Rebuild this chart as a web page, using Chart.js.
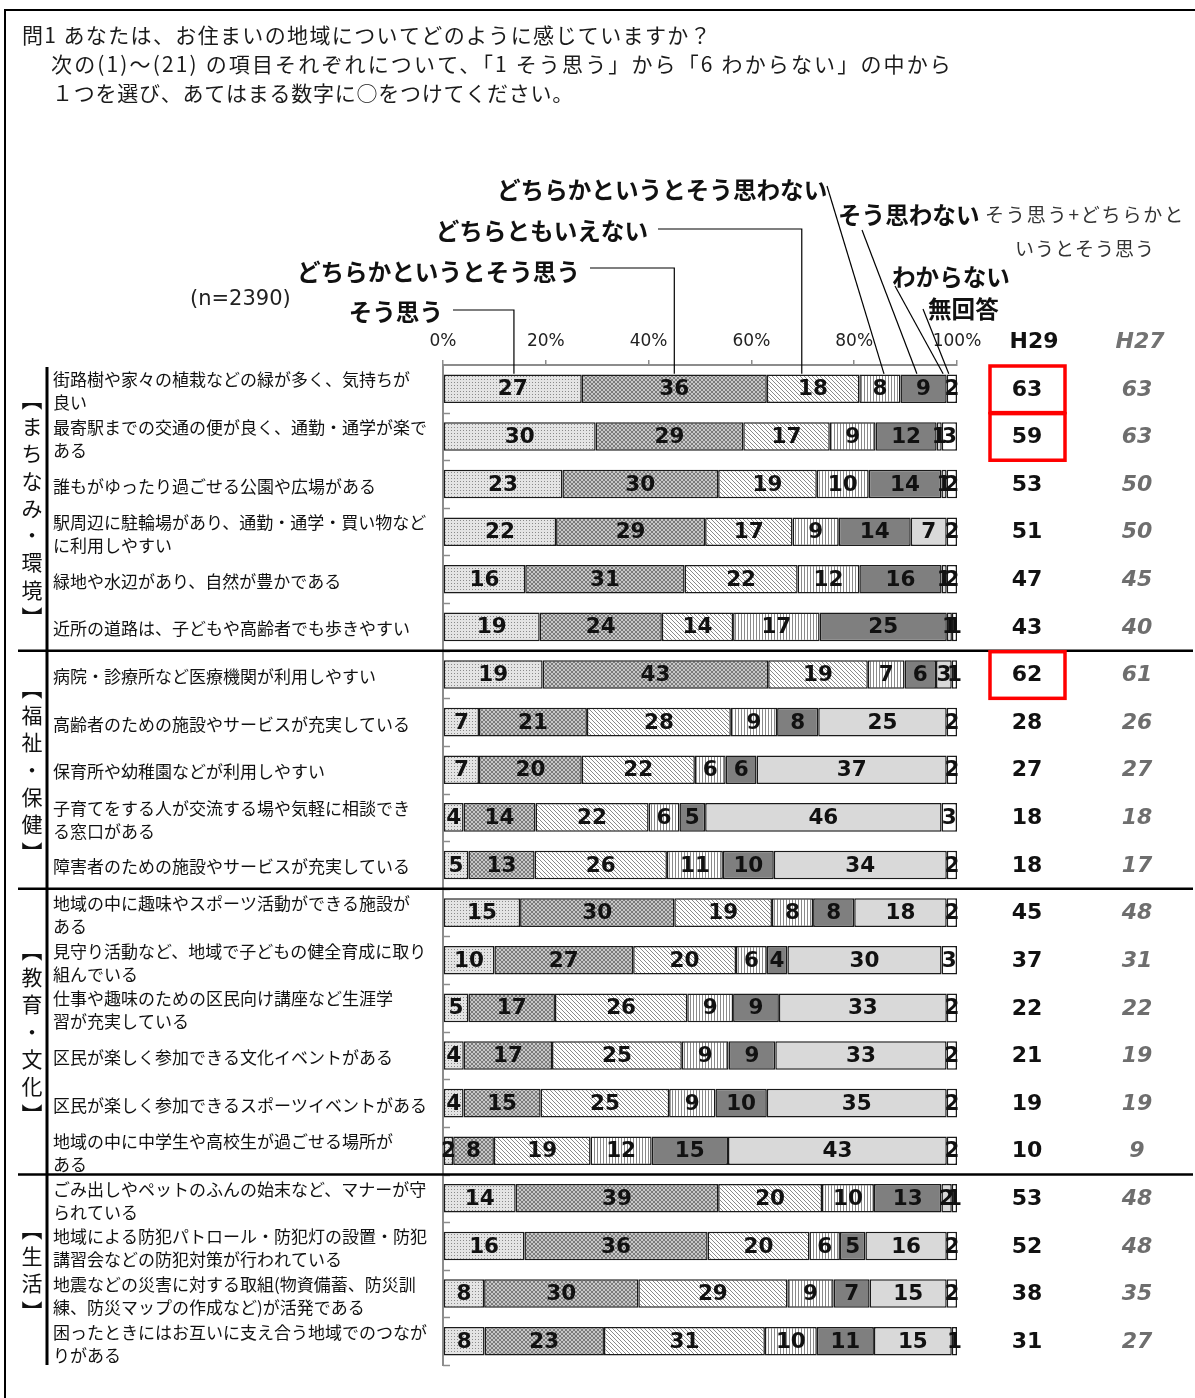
<!DOCTYPE html>
<html lang="ja">
<head>
<meta charset="utf-8">
<title>お住まいの地域について</title>
<script src="https://cdn.jsdelivr.net/npm/chart.js@4.4.1/dist/chart.umd.min.js"></script>
<style>
  html, body { margin: 0; padding: 0; background: #fff; }
  #wrap { width: 1195px; height: 1398px; }
</style>
</head>
<body>
<div id="wrap"><canvas id="myChart" width="1195" height="1398"></canvas></div>
<script>
// 回答の選択肢
const answers = ['そう思う', 'どちらかというとそう思う', 'どちらともいえない',
  'どちらかというとそう思わない', 'そう思わない', 'わからない', '無回答'];

// 項目（長いものは2行）
const items = [
  ['街路樹や家々の植栽などの緑が多く、気持ちが', '良い'],
  ['最寄駅までの交通の便が良く、通勤・通学が楽で', 'ある'],
  ['誰もがゆったり過ごせる公園や広場がある'],
  ['駅周辺に駐輪場があり、通勤・通学・買い物など', 'に利用しやすい'],
  ['緑地や水辺があり、自然が豊かである'],
  ['近所の道路は、子どもや高齢者でも歩きやすい'],
  ['病院・診療所など医療機関が利用しやすい'],
  ['高齢者のための施設やサービスが充実している'],
  ['保育所や幼稚園などが利用しやすい'],
  ['子育てをする人が交流する場や気軽に相談でき', 'る窓口がある'],
  ['障害者のための施設やサービスが充実している'],
  ['地域の中に趣味やスポーツ活動ができる施設が', 'ある'],
  ['見守り活動など、地域で子どもの健全育成に取り', '組んでいる'],
  ['仕事や趣味のための区民向け講座など生涯学', '習が充実している'],
  ['区民が楽しく参加できる文化イベントがある'],
  ['区民が楽しく参加できるスポーツイベントがある'],
  ['地域の中に中学生や高校生が過ごせる場所が', 'ある'],
  ['ごみ出しやペットのふんの始末など、マナーが守', 'られている'],
  ['地域による防犯パトロール・防犯灯の設置・防犯', '講習会などの防犯対策が行われている'],
  ['地震などの災害に対する取組(物資備蓄、防災訓', '練、防災マップの作成など)が活発である'],
  ['困ったときにはお互いに支え合う地域でのつなが', 'りがある']
];

// 各選択肢の割合（%）
const soOmou       = [27, 30, 23, 22, 16, 19, 19, 7, 7, 4, 5, 15, 10, 5, 4, 4, 2, 14, 16, 8, 8];
const dochiraOmou  = [36, 29, 30, 29, 31, 24, 43, 21, 20, 14, 13, 30, 27, 17, 17, 15, 8, 39, 36, 30, 23];
const dochiraMo    = [18, 17, 19, 17, 22, 14, 19, 28, 22, 22, 26, 19, 20, 26, 25, 25, 19, 20, 20, 29, 31];
const dochiraNai   = [8, 9, 10, 9, 12, 17, 7, 9, 6, 6, 11, 8, 6, 9, 9, 9, 12, 10, 6, 9, 10];
const soOmowanai   = [9, 12, 14, 14, 16, 25, 6, 8, 6, 5, 10, 8, 4, 9, 9, 10, 15, 13, 5, 7, 11];
const wakaranai    = [0, 1, 1, 7, 1, 1, 3, 25, 37, 46, 34, 18, 30, 33, 33, 35, 43, 2, 16, 15, 15];
const mukaito      = [2, 3, 2, 2, 2, 1, 1, 2, 2, 3, 2, 2, 3, 2, 2, 2, 2, 1, 2, 2, 1];

// そう思う+どちらかというとそう思う
const h29 = [63, 59, 53, 51, 47, 43, 62, 28, 27, 18, 18, 45, 37, 22, 21, 19, 10, 53, 52, 38, 31];
const h27 = [63, 63, 50, 50, 45, 40, 61, 26, 27, 18, 17, 48, 31, 22, 19, 19, 9, 48, 48, 35, 27];

const groupNames = ['まちなみ・環境', '福祉・保健', '教育・文化', '生活'];
const groupSizes = [6, 5, 6, 4];
const boxedRows = [0, 1, 6];
const xTicks = [0, 20, 40, 60, 80, 100];

const JP = '"Noto Sans CJK JP", sans-serif';
const NUM = '"DejaVu Sans", Verdana, sans-serif';

const series = [soOmou, dochiraOmou, dochiraMo, dochiraNai, soOmowanai, wakaranai, mukaito];
// 100%積み上げ：行ごとの合計で割って帯の長さにする（ラベルは元の値）
const rowTotals = items.map((_, i) => series.reduce((s, arr) => s + arr[i], 0));

function makePattern(kind) {
  const c = document.createElement('canvas');
  const g = c.getContext('2d');
  if (kind === 'dots') {
    c.width = 3; c.height = 3;
    g.fillStyle = '#e4e4e4'; g.fillRect(0, 0, 3, 3);
    g.fillStyle = '#8a8a8a'; g.fillRect(1, 1, 1, 1);
  } else if (kind === 'cross') {
    c.width = 4; c.height = 4;
    g.fillStyle = '#c8c8c8'; g.fillRect(0, 0, 4, 4);
    g.fillStyle = '#7c7c7c';
    for (let i = 0; i < 4; i++) { g.fillRect(i, i, 1, 1); g.fillRect(3 - i, i, 1, 1); }
  } else if (kind === 'diag') {
    c.width = 4; c.height = 4;
    g.fillStyle = '#ffffff'; g.fillRect(0, 0, 4, 4);
    g.fillStyle = '#8a8a8a';
    for (let i = 0; i < 4; i++) g.fillRect(i, i, 1, 1);
  } else if (kind === 'vert') {
    c.width = 3; c.height = 1;
    g.fillStyle = '#ffffff'; g.fillRect(0, 0, 3, 1);
    g.fillStyle = '#8a8a8a'; g.fillRect(0, 0, 1, 1);
  }
  return g.createPattern(c, 'repeat');
}

const fills = [makePattern('dots'), makePattern('cross'), makePattern('diag'),
  makePattern('vert'), '#7f7f7f', '#d9d9d9', '#ffffff'];

// 文字幅を元の図に合わせる
function fitText(ctx, text, x, y, width) {
  ctx.letterSpacing = '0px';
  const w = ctx.measureText(text).width;
  ctx.letterSpacing = ((width - w) / [...text].length) + 'px';
  ctx.fillText(text, x, y);
  ctx.letterSpacing = '0px';
}

const decor = {
  id: 'decor',
  afterDraw(chart) {
    const ctx = chart.ctx;
    const xs = chart.scales.x, ys = chart.scales.y;
    const area = chart.chartArea;
    const band = (area.bottom - area.top) / items.length;
    ctx.save();

    // 枠
    ctx.strokeStyle = '#000'; ctx.lineWidth = 2;
    ctx.beginPath(); ctx.moveTo(5, 1398); ctx.lineTo(5, 10); ctx.lineTo(1195, 10); ctx.stroke();

    // 設問文
    ctx.fillStyle = '#1a1a1a'; ctx.textBaseline = 'middle'; ctx.textAlign = 'left';
    ctx.font = '21px ' + JP;
    fitText(ctx, '問1 あなたは、お住まいの地域についてどのように感じていますか？', 22, 35, 690);
    fitText(ctx, '次の(1)～(21) の項目それぞれについて、「1 そう思う」から「6 わからない」の中から', 51, 64, 902);
    fitText(ctx, '１つを選び、あてはまる数字に○をつけてください。', 52, 93, 522);

    // 軸の内側の目盛り
    ctx.strokeStyle = '#8c8c8c'; ctx.lineWidth = 1.5;
    for (let i = 1; i <= items.length; i++) {
      const y = Math.round(area.top + i * band) + 0.5;
      ctx.beginPath(); ctx.moveTo(area.left, y); ctx.lineTo(area.left + 7, y); ctx.stroke();
    }

    // 数値ラベル
    ctx.fillStyle = '#111'; ctx.textAlign = 'center';
    ctx.font = 'bold 21.5px ' + NUM;
    chart.data.datasets.forEach((ds, di) => {
      chart.getDatasetMeta(di).data.forEach((bar, i) => {
        const v = series[di][i];
        if (!v) return;
        ctx.fillText(String(v), (bar.x + bar.base) / 2, bar.y + 1);
      });
    });

    // 項目名
    ctx.textAlign = 'left'; ctx.fillStyle = '#111';
    ctx.font = '17px ' + JP;
    items.forEach((lines, i) => {
      const c = ys.getPixelForValue(i);
      if (lines.length === 1) ctx.fillText(lines[0], 53, c + 2);
      else { ctx.fillText(lines[0], 53, c - 9); ctx.fillText(lines[1], 53, c + 14); }
    });

    // 分類（縦書き）と区切り線
    let start = 0;
    groupNames.forEach((name, g) => {
      const top = ys.getPixelForValue(start) - band / 2;
      const bottom = ys.getPixelForValue(start + groupSizes[g] - 1) + band / 2;
      const chars = ['︻', ...name, '︼'];
      const step = 27.3;
      const y0 = (top + bottom) / 2 - (chars.length - 1) / 2 * step;
      ctx.font = '21px ' + JP; ctx.textAlign = 'center'; ctx.fillStyle = '#111';
      chars.forEach((ch, k) => ctx.fillText(ch, 32, y0 + k * step));
      if (g > 0) {
        ctx.strokeStyle = '#000'; ctx.lineWidth = 2.5;
        ctx.beginPath(); ctx.moveTo(18, top); ctx.lineTo(1193, top); ctx.stroke();
      }
      start += groupSizes[g];
    });
    ctx.strokeStyle = '#000'; ctx.lineWidth = 3;
    ctx.beginPath(); ctx.moveTo(47, area.top + 2); ctx.lineTo(47, area.bottom); ctx.stroke();

    // 凡例の引き出し線
    const top0 = ys.getPixelForValue(0) - 15;
    ctx.font = 'bold 23.6px ' + JP; ctx.fillStyle = '#111';
    ctx.strokeStyle = '#000'; ctx.lineWidth = 1.2;
    const elbow = [
      { text: answers[0], right: 443, ty: 312, ly: 310, at: 13.8 },
      { text: answers[1], right: 580, ty: 272, ly: 268, at: 45 },
      { text: answers[2], right: 648, ty: 231, ly: 229, at: 69.8 }
    ];
    elbow.forEach(e => {
      ctx.textAlign = 'right'; ctx.fillText(e.text, e.right, e.ty);
      const x = xs.getPixelForValue(e.at);
      ctx.beginPath(); ctx.moveTo(e.right + 10, e.ly); ctx.lineTo(x, e.ly); ctx.lineTo(x, top0); ctx.stroke();
    });
    const slant = [
      { text: answers[3], left: 497, ty: 190, sx: 827, sy: 186, at: 85.8 },
      { text: answers[4], left: 838, ty: 215, sx: 862, sy: 230, at: 92.2 },
      { text: answers[5], left: 892, ty: 277, sx: 895, sy: 286, at: 97.3 },
      { text: answers[6], left: 928, ty: 309, sx: 923, sy: 309, at: 98.4 }
    ];
    slant.forEach(e => {
      ctx.textAlign = 'left'; ctx.fillText(e.text, e.left, e.ty);
      const x = xs.getPixelForValue(e.at);
      ctx.beginPath(); ctx.moveTo(e.sx, e.sy); ctx.lineTo(x, top0); ctx.stroke();
    });

    ctx.font = '21px ' + NUM; ctx.fillStyle = '#222'; ctx.textAlign = 'left';
    ctx.fillText('(n=2390)', 190, 300);
    ctx.font = '19px ' + JP; ctx.fillStyle = '#333';
    fitText(ctx, 'そう思う+どちらかと', 985, 215, 200);
    fitText(ctx, 'いうとそう思う', 1015, 249, 140);

    // H29 / H27
    ctx.textAlign = 'center';
    ctx.font = 'bold 22px ' + NUM; ctx.fillStyle = '#111';
    ctx.fillText('H29', 1034, 342);
    ctx.font = 'italic bold 22px ' + NUM; ctx.fillStyle = '#737373';
    ctx.fillText('H27', 1140, 342);
    items.forEach((_, i) => {
      const c = ys.getPixelForValue(i) + 1;
      ctx.font = 'bold 22px ' + NUM; ctx.fillStyle = '#111';
      ctx.fillText(String(h29[i]), 1027, c);
      ctx.font = 'italic bold 22px ' + NUM; ctx.fillStyle = '#6e6e6e';
      ctx.fillText(String(h27[i]), 1137, c);
    });
    ctx.strokeStyle = '#ff0000'; ctx.lineWidth = 3.5;
    boxedRows.forEach(r => {
      const c = ys.getPixelForValue(r);
      ctx.strokeRect(990, c - band / 2 + 1, 75, band - 1);
    });

    ctx.restore();
  }
};

new Chart(document.getElementById('myChart'), {
  type: 'bar',
  data: {
    labels: items.map((_, i) => i),
    datasets: series.map((vals, k) => ({
      label: answers[k],
      data: vals.map((v, i) => v / rowTotals[i] * 100),
      backgroundColor: fills[k],
      borderColor: '#1a1a1a',
      borderWidth: 1.5,
      borderSkipped: false,
      barPercentage: 0.6,
      categoryPercentage: 1
    }))
  },
  options: {
    indexAxis: 'y',
    responsive: false,
    animation: false,
    layout: { padding: { top: 325, left: 443, right: 238, bottom: 33 } },
    plugins: { legend: { display: false }, tooltip: { enabled: false } },
    scales: {
      x: {
        position: 'top', stacked: true, min: 0, max: 100,
        afterBuildTicks: s => { s.ticks = xTicks.map(v => ({ value: v })); },
        afterFit: s => { s.height = 40; },
        ticks: { callback: v => v + '%', color: '#222', padding: 8, font: { family: NUM, size: 17 } },
        grid: { drawOnChartArea: false, tickLength: 5, color: '#8c8c8c', lineWidth: 1.5 },
        border: { color: '#8c8c8c', width: 2 }
      },
      y: {
        stacked: true,
        afterFit: s => { s.width = 0; },
        ticks: { display: false },
        grid: { drawOnChartArea: false, drawTicks: false },
        border: { color: '#8c8c8c', width: 2 }
      }
    }
  },
  plugins: [decor]
});
</script>
</body>
</html>
